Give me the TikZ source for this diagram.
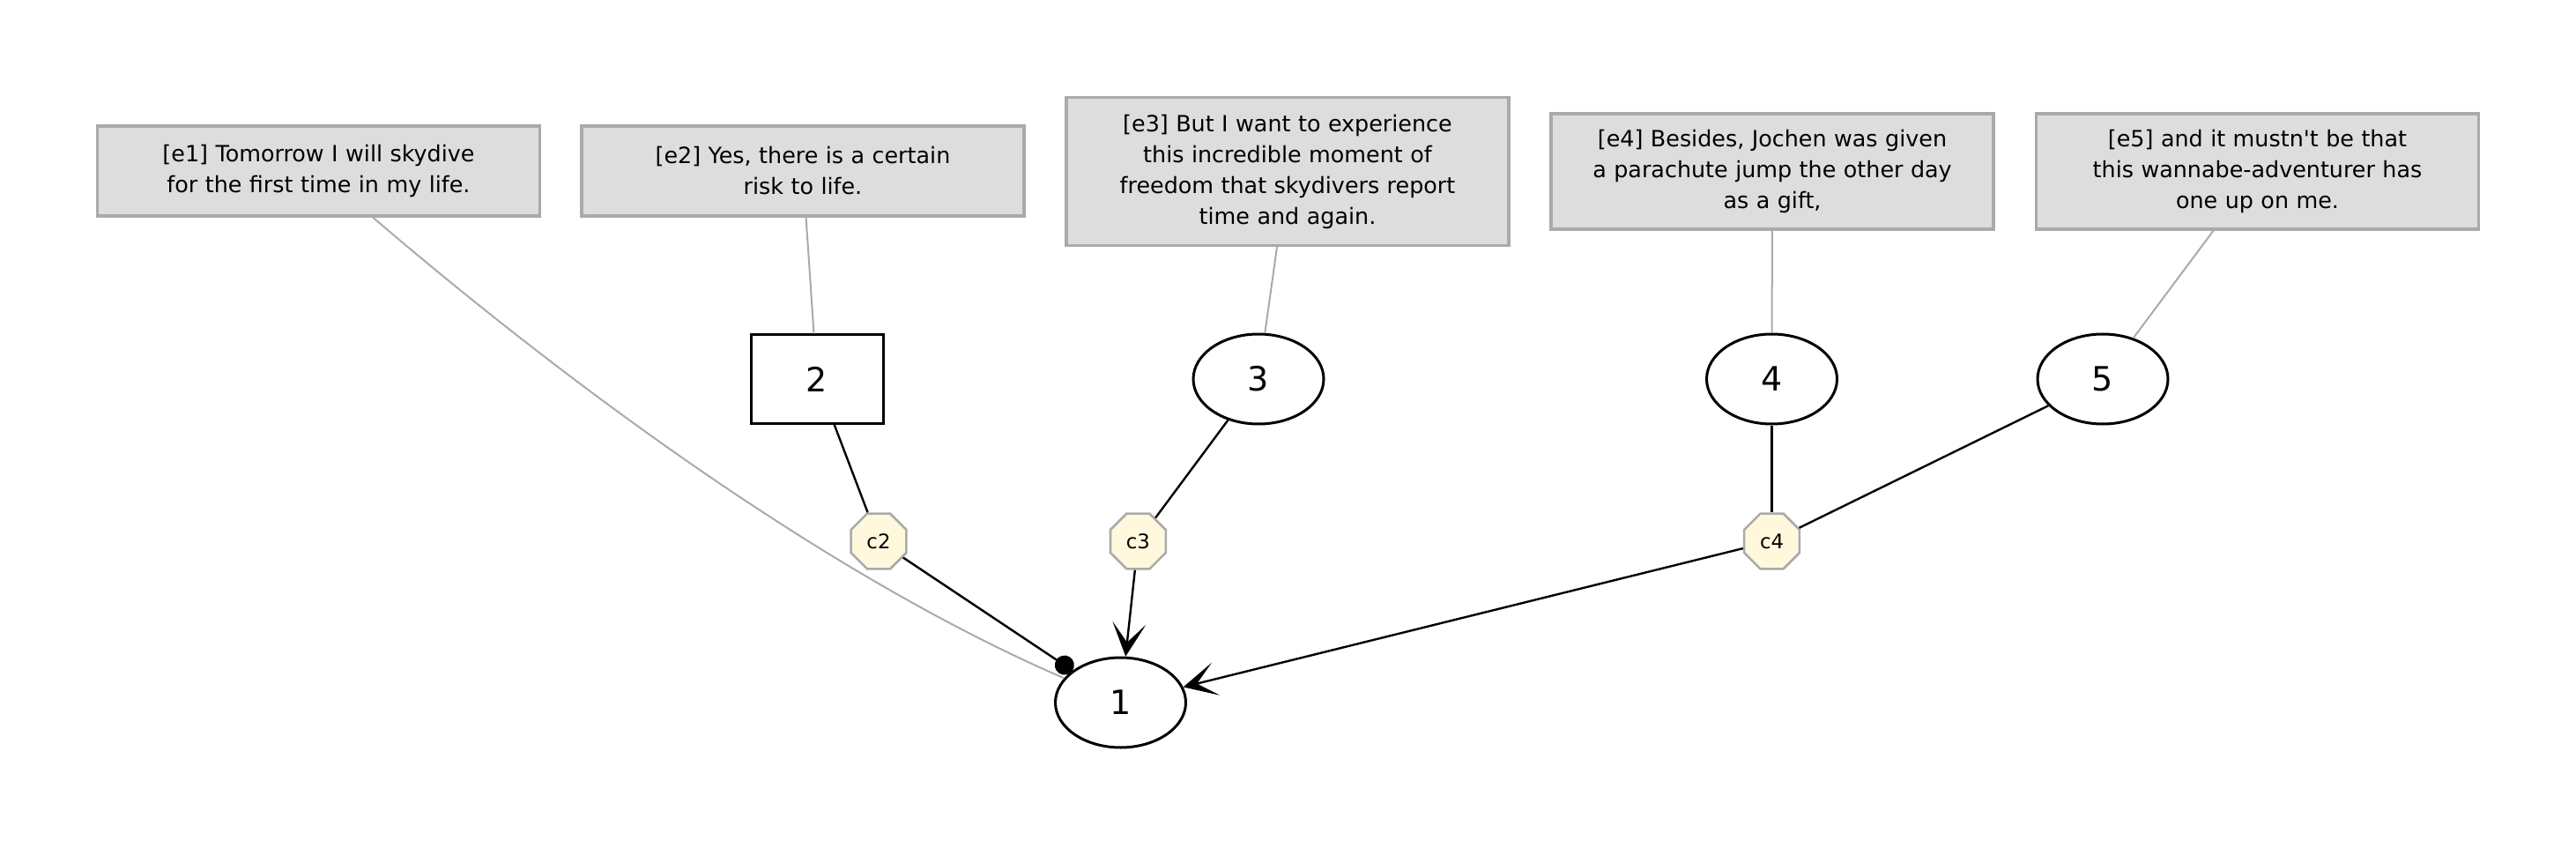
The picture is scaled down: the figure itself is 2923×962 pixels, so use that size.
\documentclass[tikz,border=0pt]{standalone}
\usepackage{fontspec}
\setmainfont{DejaVu Sans}[Ligatures=TeXOff]
\usetikzlibrary{shapes.geometric,arrows.meta}
\definecolor{boxfill}{HTML}{DDDDDD}
\definecolor{boxline}{HTML}{AAAAAA}
\definecolor{octfill}{HTML}{FFF8DC}
\begin{document}
\begin{tikzpicture}[x=0.5pt,y=-0.5pt,
  ebox/.style={rectangle, draw=boxline, fill=boxfill, line width=1.6pt, text width=235pt, inner xsep=8pt, inner ysep=0pt, align=center, font=\fontsize{12.7}{17.5}\selectfont, minimum height=#1},
  ell/.style={ellipse, draw, line width=1.5pt, minimum width=74pt, minimum height=51pt, inner sep=0pt, font=\fontsize{19}{22}\selectfont},
  rectn/.style={rectangle, draw, line width=1.5pt, minimum width=75pt, minimum height=50pt, inner sep=0pt, font=\fontsize{19}{22}\selectfont},
  oct/.style={regular polygon, regular polygon sides=8, draw=boxline, fill=octfill, line width=1.3pt, minimum size=34pt, inner sep=0pt, font=\fontsize{11.4}{13}\selectfont},
  gline/.style={draw=boxline, line width=1pt},
  bline/.style={draw=black, line width=1.2pt},
  vee/.style={-{Stealth[length=19pt,width=19pt,inset=11pt]}},
  dot/.style={-{Circle[length=11pt]}}
]
\useasboundingbox (0,0) rectangle (2923,962);
% text boxes
\node[ebox=51pt] (e1) at (361.5,194) {[e1] Tomorrow I will skydive\\for the first time in my life.};
\node[ebox=51pt] (e2) at (911,194) {[e2] Yes, there is a certain\\risk to life.};
\node[ebox=84pt] (e3) at (1461,194.5) {[e3] But I want to experience\\this incredible moment of\\freedom that skydivers report\\time and again.};
\node[ebox=65.5pt] (e4) at (2011,194.5) {[e4] Besides, Jochen was given\\a parachute jump the other day\\as a gift,};
\node[ebox=65.5pt] (e5) at (2561.5,194.5) {[e5] and it mustn't be that\\this wannabe-adventurer has\\one up on me.};
% argument nodes
\node[rectn] (n2) at (927,430) {2};
\node[ell] (n3) at (1428,430) {3};
\node[ell] (n4) at (2010.5,430) {4};
\node[ell] (n5) at (2386,430) {5};
\node[ell] (n1) at (1271.5,797) {1};
% connectors
\node[oct] (c2) at (997,614) {c2};
\node[oct] (c3) at (1291.4,614) {c3};
\node[oct] (c4) at (2010.5,614) {c4};
% text links
\draw[gline] (e1) .. controls (667,455) and (954,660) .. (n1);
\draw[gline] (e2) -- (n2);
\draw[gline] (e3) -- (n3);
\draw[gline] (e4) -- (n4);
\draw[gline] (e5) -- (n5);
% argument edges
\draw[bline] (n2) -- (c2);
\draw[bline,dot] (c2) -- (n1);
\draw[bline] (n3) -- (c3);
\draw[bline,vee] (c3) -- (n1);
\draw[bline] (n4) -- (c4);
\draw[bline] (n5) -- (c4);
\draw[bline,vee] (c4) -- (n1);
\end{tikzpicture}
\end{document}
